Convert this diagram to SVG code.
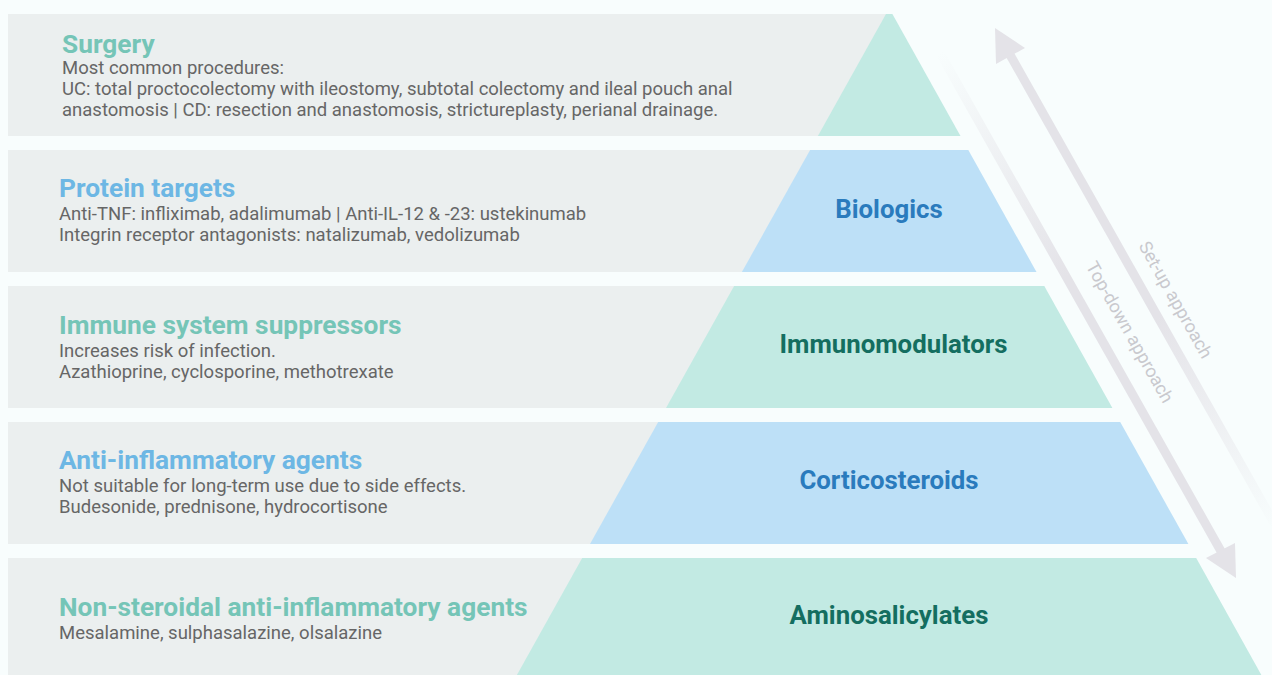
<svg xmlns="http://www.w3.org/2000/svg" width="1272" height="675" viewBox="0 0 1272 675">
  <style>
    .band { fill: #ebefef; }
    .teal { fill: #c2eae3; }
    .blue { fill: #bde0f7; }
    .title { font-family: Roboto, "Liberation Sans", sans-serif; font-weight: 700; font-size: 26.3px; }
    .t-teal { fill: #75c5b7; }
    .t-blue { fill: #6db7e4; }
    .body { font-family: Roboto, "Liberation Sans", sans-serif; font-size: 18.5px; fill: #666666; }
    .tier { font-family: Roboto, "Liberation Sans", sans-serif; font-weight: 700; font-size: 25.8px; text-anchor: middle; }
    .tier-teal { fill: #146e60; }
    .tier-blue { fill: #2a7bbd; }
    .approach { font-family: Roboto, "Liberation Sans", sans-serif; font-size: 18px; fill: #c9c9ce; }
  </style>
  <defs>
    <linearGradient id="fadeDown" gradientUnits="userSpaceOnUse" x1="940" y1="53" x2="1220.5" y2="550.5">
      <stop offset="0" stop-color="#e4e3e8" stop-opacity="0"/>
      <stop offset="0.45" stop-color="#e4e3e8" stop-opacity="1"/>
      <stop offset="1" stop-color="#e4e3e8" stop-opacity="1"/>
    </linearGradient>
    <linearGradient id="fadeUp" gradientUnits="userSpaceOnUse" x1="1010.5" y1="56" x2="1278" y2="530">
      <stop offset="0" stop-color="#e4e3e8" stop-opacity="1"/>
      <stop offset="0.55" stop-color="#e4e3e8" stop-opacity="1"/>
      <stop offset="1" stop-color="#e4e3e8" stop-opacity="0"/>
    </linearGradient>
  </defs>

  <rect width="1272" height="675" fill="#f8fdfd"/>

  <!-- Tier 1: surgery -->
  <g id="tier-surgery">
    <rect class="band" x="8" y="14" width="881" height="122"/>
    <polygon class="teal" points="886,14 892.4,14 960.5,136 817.9,136"/>
    <text class="title t-teal" x="62" y="53">Surgery</text>
    <text class="body" x="62" y="74">Most common procedures:</text>
    <text class="body" x="62" y="95">UC: total proctocolectomy with ileostomy, subtotal colectomy and ileal pouch anal</text>
    <text class="body" x="62" y="116">anastomosis | CD: resection and anastomosis, strictureplasty, perianal drainage.</text>
  </g>

  <!-- Tier 2: biologics -->
  <g id="tier-biologics">
    <rect class="band" x="8" y="150" width="881" height="122"/>
    <polygon class="blue" points="810.1,150 968.3,150 1036.5,272 741.9,272"/>
    <text class="title t-blue" x="59" y="197">Protein targets</text>
    <text class="body" x="59" y="220">Anti-TNF: infliximab, adalimumab | Anti-IL-12 &amp; -23: ustekinumab</text>
    <text class="body" x="59" y="240.5">Integrin receptor antagonists: natalizumab, vedolizumab</text>
    <text class="tier tier-blue" x="889" y="217.5">Biologics</text>
  </g>

  <!-- Tier 3: immunomodulators -->
  <g id="tier-immunomodulators">
    <rect class="band" x="8" y="286" width="881" height="122"/>
    <polygon class="teal" points="734.1,286 1044.3,286 1112.4,408 666,408"/>
    <text class="title t-teal" x="59" y="333.5">Immune system suppressors</text>
    <text class="body" x="59" y="357">Increases risk of infection.</text>
    <text class="body" x="59" y="377.5">Azathioprine, cyclosporine, methotrexate</text>
    <text class="tier tier-teal" x="893.5" y="352.5">Immunomodulators</text>
  </g>

  <!-- Tier 4: corticosteroids -->
  <g id="tier-corticosteroids">
    <rect class="band" x="8" y="422" width="881" height="122"/>
    <polygon class="blue" points="658.2,422 1120.2,422 1188.4,544 590,544"/>
    <text class="title t-blue" x="59" y="469">Anti-inflammatory agents</text>
    <text class="body" x="59" y="492">Not suitable for long-term use due to side effects.</text>
    <text class="body" x="59" y="512.5">Budesonide, prednisone, hydrocortisone</text>
    <text class="tier tier-blue" x="889" y="488.5">Corticosteroids</text>
  </g>

  <!-- Tier 5: aminosalicylates -->
  <g id="tier-aminosalicylates">
    <rect class="band" x="8" y="558" width="881" height="122"/>
    <polygon class="teal" points="582.2,558 1196.2,558 1262.5,677 515.8,677"/>
    <text class="title t-teal" x="59" y="616">Non-steroidal anti-inflammatory agents</text>
    <text class="body" x="59" y="638.5">Mesalamine, sulphasalazine, olsalazine</text>
    <text class="tier tier-teal" x="889" y="624">Aminosalicylates</text>
  </g>

  <!-- Treatment direction arrows -->
  <g id="connectors">
    <g id="top-down">
      <line x1="940" y1="53" x2="1222" y2="553" stroke="url(#fadeDown)" stroke-width="9"/>
      <polygon points="1236,578 1206,558 1235,543" fill="#e4e3e8"/>
      <text class="approach" transform="translate(940,53) rotate(60.58)" x="257" y="-22">Top-down approach</text>
    </g>
    <g id="step-up">
      <line x1="1009" y1="53" x2="1278" y2="530" stroke="url(#fadeUp)" stroke-width="9"/>
      <polygon points="995,28 996,64 1025,48" fill="#e4e3e8"/>
      <text class="approach" transform="translate(1010.5,56) rotate(60.58)" x="228" y="-18">Set-up approach</text>
    </g>
  </g>
</svg>
